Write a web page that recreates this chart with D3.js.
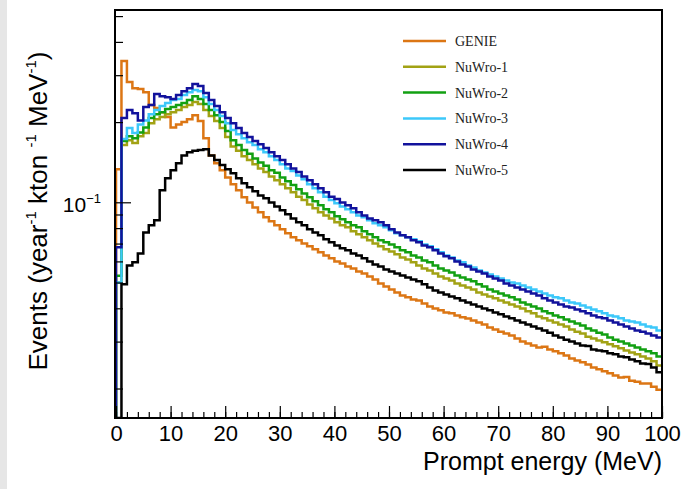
<!DOCTYPE html>
<html>
<head>
<meta charset="utf-8">
<script src="https://cdn.jsdelivr.net/npm/d3@7"></script>
<style>
  html, body { margin: 0; padding: 0; background: #ffffff; }
  svg { display: block; }
</style>
</head>
<body>
<svg id="chart" width="684" height="489"></svg>
<script>
// Prompt-energy spectra, 1 MeV bins from 0 to 100 MeV (events / year / kton / MeV)
const binEdges = d3.range(0, 101, 1);

const seriesNames = ["GENIE", "NuWro-1", "NuWro-2", "NuWro-3", "NuWro-4", "NuWro-5"];
const seriesColors = ["#dc7614", "#a2a214", "#12a012", "#3cc8fa", "#12129c", "#000000"];

const genie = [
  0.133, 0.339, 0.283, 0.268, 0.266, 0.259, 0.232, 0.226, 0.218, 0.209,
  0.191, 0.196, 0.200, 0.205, 0.212, 0.202, 0.174, 0.150, 0.140, 0.132,
  0.124, 0.117, 0.111, 0.1045, 0.0999, 0.0957, 0.0917, 0.0878, 0.0849, 0.0820,
  0.0792, 0.0765, 0.0739, 0.0720, 0.0701, 0.0684, 0.0666, 0.0649, 0.0632, 0.0616,
  0.0600, 0.0589, 0.0574, 0.0564, 0.0550, 0.0541, 0.0527, 0.0513, 0.0496, 0.0483,
  0.0471, 0.0459, 0.0447, 0.0440, 0.0432, 0.0428, 0.0417, 0.0406, 0.0399, 0.0393,
  0.0386, 0.0383, 0.0376, 0.0370, 0.0366, 0.0360, 0.0354, 0.0348, 0.0339, 0.0333,
  0.0327, 0.0322, 0.0316, 0.0308, 0.0300, 0.0295, 0.0290, 0.0285, 0.0287, 0.0280,
  0.0276, 0.0271, 0.0266, 0.0259, 0.0255, 0.0251, 0.0246, 0.0240, 0.0236, 0.0232,
  0.0228, 0.0224, 0.0220, 0.0221, 0.0214, 0.0212, 0.0209, 0.0209, 0.0203, 0.0198
];
const nuwro1 = [
  0.050, 0.164, 0.171, 0.167, 0.177, 0.182, 0.198, 0.205, 0.209, 0.214,
  0.218, 0.222, 0.228, 0.232, 0.238, 0.234, 0.222, 0.211, 0.202, 0.190,
  0.176, 0.162, 0.156, 0.149, 0.144, 0.139, 0.134, 0.130, 0.125, 0.121,
  0.117, 0.113, 0.109, 0.105, 0.102, 0.0982, 0.0949, 0.0917, 0.0893, 0.0870,
  0.0841, 0.0820, 0.0806, 0.0778, 0.0758, 0.0739, 0.0720, 0.0701, 0.0684, 0.0666,
  0.0654, 0.0638, 0.0621, 0.0610, 0.0595, 0.0579, 0.0564, 0.0555, 0.0541, 0.0527,
  0.0518, 0.0509, 0.0496, 0.0487, 0.0479, 0.0471, 0.0459, 0.0451, 0.0443, 0.0436,
  0.0428, 0.0421, 0.0413, 0.0406, 0.0399, 0.0390, 0.0383, 0.0373, 0.0367, 0.0360,
  0.0354, 0.0348, 0.0342, 0.0333, 0.0327, 0.0322, 0.0313, 0.0308, 0.0303, 0.0298,
  0.0293, 0.0288, 0.0283, 0.0278, 0.0273, 0.0269, 0.0264, 0.0259, 0.0253, 0.0244
];
const nuwro2 = [
  0.053, 0.170, 0.177, 0.174, 0.183, 0.191, 0.207, 0.214, 0.218, 0.224,
  0.228, 0.232, 0.236, 0.242, 0.250, 0.244, 0.234, 0.222, 0.212, 0.200,
  0.185, 0.171, 0.164, 0.157, 0.152, 0.146, 0.141, 0.137, 0.132, 0.129,
  0.124, 0.120, 0.116, 0.112, 0.108, 0.1045, 0.101, 0.0974, 0.0941, 0.0917,
  0.0886, 0.0863, 0.0841, 0.0820, 0.0806, 0.0778, 0.0758, 0.0739, 0.0720, 0.0708,
  0.0695, 0.0678, 0.0660, 0.0649, 0.0632, 0.0621, 0.0605, 0.0595, 0.0579, 0.0564,
  0.0555, 0.0545, 0.0531, 0.0522, 0.0513, 0.0505, 0.0492, 0.0483, 0.0471, 0.0463,
  0.0455, 0.0447, 0.0440, 0.0432, 0.0421, 0.0413, 0.0406, 0.0399, 0.0390, 0.0383,
  0.0376, 0.0370, 0.0363, 0.0357, 0.0351, 0.0345, 0.0336, 0.0330, 0.0324, 0.0319,
  0.0311, 0.0305, 0.0300, 0.0295, 0.0290, 0.0285, 0.0280, 0.0276, 0.0271, 0.0264
];
const nuwro3 = [
  0.050, 0.173, 0.190, 0.182, 0.196, 0.203, 0.214, 0.222, 0.230, 0.236,
  0.242, 0.244, 0.253, 0.259, 0.264, 0.261, 0.248, 0.234, 0.222, 0.211,
  0.198, 0.187, 0.180, 0.174, 0.168, 0.164, 0.158, 0.154, 0.149, 0.144,
  0.139, 0.134, 0.131, 0.126, 0.122, 0.117, 0.113, 0.109, 0.105, 0.102,
  0.0991, 0.0965, 0.0941, 0.0917, 0.0893, 0.0878, 0.0856, 0.0834, 0.0820, 0.0806,
  0.0785, 0.0765, 0.0752, 0.0739, 0.0726, 0.0714, 0.0695, 0.0684, 0.0666, 0.0649,
  0.0632, 0.0621, 0.0605, 0.0595, 0.0579, 0.0569, 0.0555, 0.0545, 0.0536, 0.0527,
  0.0518, 0.0509, 0.0500, 0.0496, 0.0487, 0.0479, 0.0471, 0.0463, 0.0455, 0.0447,
  0.0440, 0.0436, 0.0428, 0.0421, 0.0417, 0.0410, 0.0403, 0.0396, 0.0390, 0.0383,
  0.0376, 0.0373, 0.0367, 0.0360, 0.0357, 0.0354, 0.0348, 0.0342, 0.0339, 0.0330
];
const nuwro4 = [
  0.0678, 0.207, 0.222, 0.216, 0.203, 0.228, 0.232, 0.255, 0.250, 0.248,
  0.244, 0.253, 0.261, 0.268, 0.278, 0.273, 0.257, 0.242, 0.230, 0.218,
  0.207, 0.198, 0.190, 0.182, 0.176, 0.170, 0.165, 0.160, 0.154, 0.149,
  0.144, 0.139, 0.134, 0.130, 0.125, 0.121, 0.117, 0.113, 0.109, 0.105,
  0.103, 0.0999, 0.0974, 0.0949, 0.0917, 0.0893, 0.0870, 0.0856, 0.0841, 0.0820,
  0.0792, 0.0771, 0.0752, 0.0739, 0.0720, 0.0708, 0.0689, 0.0678, 0.0660, 0.0643,
  0.0627, 0.0616, 0.0600, 0.0584, 0.0574, 0.0560, 0.0550, 0.0541, 0.0527, 0.0518,
  0.0509, 0.0496, 0.0487, 0.0479, 0.0471, 0.0463, 0.0455, 0.0447, 0.0436, 0.0428,
  0.0421, 0.0413, 0.0406, 0.0403, 0.0396, 0.0390, 0.0383, 0.0376, 0.0370, 0.0367,
  0.0360, 0.0354, 0.0348, 0.0342, 0.0336, 0.0330, 0.0327, 0.0322, 0.0316, 0.0311
];
const nuwro5 = [
  0.0100, 0.0492, 0.0579, 0.0595, 0.0643, 0.0771, 0.0820, 0.0856, 0.111, 0.123,
  0.132, 0.140, 0.150, 0.154, 0.156, 0.157, 0.158, 0.150, 0.144, 0.138,
  0.133, 0.1285, 0.123, 0.118, 0.114, 0.110, 0.106, 0.1036, 0.0999, 0.0965,
  0.0933, 0.0901, 0.0870, 0.0841, 0.0820, 0.0792, 0.0771, 0.0752, 0.0726, 0.0708,
  0.0689, 0.0672, 0.0660, 0.0643, 0.0632, 0.0616, 0.0600, 0.0584, 0.0574, 0.0560,
  0.0550, 0.0541, 0.0531, 0.0522, 0.0513, 0.0505, 0.0492, 0.0479, 0.0467, 0.0459,
  0.0451, 0.0443, 0.0436, 0.0428, 0.0421, 0.0413, 0.0406, 0.0399, 0.0393, 0.0386,
  0.0380, 0.0373, 0.0367, 0.0360, 0.0354, 0.0348, 0.0342, 0.0336, 0.0330, 0.0324,
  0.0316, 0.0311, 0.0305, 0.0300, 0.0295, 0.0290, 0.0289, 0.0280, 0.0278, 0.0276,
  0.0271, 0.0269, 0.0264, 0.0262, 0.0257, 0.0253, 0.0248, 0.0247, 0.0240, 0.0230
];

const seriesValues = [genie, nuwro1, nuwro2, nuwro3, nuwro4, nuwro5];

const xMajorTicks = d3.range(0, 101, 10);
const xMinorTicks = d3.range(0, 101, 2);
const yMajorTicks = [0.1];
const yMinorTicks = [0.02, 0.03, 0.04, 0.05, 0.06, 0.07, 0.08, 0.09, 0.2, 0.3, 0.4, 0.5];

const W = 684, H = 489;
const frame = { left: 115, right: 662, top: 10, bottom: 418 };

const svg = d3.select("#chart");

// light grey strip along the left edge of the canvas
svg.append("rect")
  .attr("x", 0).attr("y", 0).attr("width", 7).attr("height", H)
  .attr("fill", "#e6e6e6");

const x = d3.scaleLinear().domain([0, 100]).range([116, frame.right]);
const y = d3.scaleLog().domain([0.0155, 0.527]).range([frame.bottom, frame.top]).clamp(true);

svg.append("defs").append("clipPath").attr("id", "plotClip")
  .append("rect")
  .attr("x", frame.left).attr("y", frame.top)
  .attr("width", frame.right - frame.left).attr("height", frame.bottom - frame.top);

// histogram outline: rises from the axis at the first low edge, then steps bin by bin
function stepPath(vals) {
  const p = d3.path();
  p.moveTo(x(binEdges[0]), frame.bottom);
  vals.forEach((v, i) => {
    p.lineTo(x(binEdges[i]), y(v));
    p.lineTo(x(binEdges[i + 1]), y(v));
  });
  return p.toString();
}

const plot = svg.append("g").attr("clip-path", "url(#plotClip)");
plot.selectAll("path.hist")
  .data(seriesValues)
  .join("path")
  .attr("class", "hist")
  .attr("d", d => stepPath(d))
  .attr("fill", "none")
  .attr("stroke", (d, i) => seriesColors[i])
  .attr("stroke-width", 2.5)
  .attr("stroke-linejoin", "miter");

// axes (ticks point into the frame)
const tickFont = "'Liberation Sans', Arial, sans-serif";

const xMinor = svg.append("g")
  .attr("transform", `translate(0,${frame.bottom})`)
  .call(d3.axisBottom(x).tickValues(xMinorTicks).tickSize(-6).tickFormat(""));
xMinor.select(".domain").remove();

const xMajor = svg.append("g")
  .attr("transform", `translate(0,${frame.bottom})`)
  .call(d3.axisBottom(x).tickValues(xMajorTicks).tickSize(-12).tickPadding(7).tickFormat(d3.format("d")));
xMajor.select(".domain").remove();
xMajor.selectAll("text")
  .attr("font-family", tickFont).attr("font-size", 22).attr("fill", "#000");

svg.selectAll(".tick line").attr("stroke", "#000").attr("stroke-width", 1.2);

const yMinor = svg.append("g")
  .attr("transform", `translate(${frame.left},0)`)
  .call(d3.axisLeft(y).tickValues(yMinorTicks).tickSize(-8).tickFormat(""));
yMinor.select(".domain").remove();
yMinor.selectAll(".tick line").attr("stroke", "#000").attr("stroke-width", 1.2);

const yMajor = svg.append("g")
  .attr("transform", `translate(${frame.left},0)`)
  .call(d3.axisLeft(y).tickValues(yMajorTicks).tickSize(-16).tickPadding(14).tickFormat(""));
yMajor.select(".domain").remove();
yMajor.selectAll(".tick line").attr("stroke", "#000").attr("stroke-width", 1.2);
yMajor.selectAll(".tick").each(function (d) {
  const t = d3.select(this).select("text")
    .attr("font-family", tickFont).attr("font-size", 21).attr("fill", "#000")
    .attr("dy", "0.45em").attr("text-anchor", "end");
  const exp = Math.round(Math.log10(d));
  t.append("tspan").text("10");
  t.append("tspan").attr("font-size", 13).attr("dy", "-0.75em")
    .text(exp < 0 ? "\u2212" + (-exp) : String(exp));
});

// frame
svg.append("rect")
  .attr("x", frame.left).attr("y", frame.top)
  .attr("width", frame.right - frame.left).attr("height", frame.bottom - frame.top)
  .attr("fill", "none").attr("stroke", "#000").attr("stroke-width", 2);

// axis titles
svg.append("text")
  .attr("x", frame.right).attr("y", 470)
  .attr("text-anchor", "end")
  .attr("font-family", tickFont).attr("font-size", 25).attr("fill", "#000")
  .text("Prompt energy (MeV)");

const yTitle = svg.append("text")
  .attr("transform", "translate(47,211) rotate(-90)")
  .attr("text-anchor", "middle")
  .attr("font-family", tickFont).attr("font-size", 26).attr("fill", "#000");
const yTitleParts = [
  { t: "Events (year", sup: false },
  { t: "-1", sup: true },
  { t: " kton ", sup: false },
  { t: "-1", sup: true },
  { t: " MeV", sup: false },
  { t: "-1", sup: true },
  { t: ")", sup: false }
];
yTitleParts.forEach(p => {
  const ts = yTitle.append("tspan").text(p.t);
  if (p.sup) ts.attr("font-size", 15).attr("dy", -11);
  else ts.attr("dy", yTitle.selectAll("tspan").size() > 1 ? 11 : 0);
});

// legend
const legend = svg.append("g");
seriesNames.forEach((name, i) => {
  const ly = 41 + i * 25.8;
  legend.append("line")
    .attr("x1", 403).attr("x2", 446).attr("y1", ly).attr("y2", ly)
    .attr("stroke", seriesColors[i]).attr("stroke-width", 2.5);
  legend.append("text")
    .attr("x", 455).attr("y", ly).attr("dy", "0.35em")
    .attr("font-family", "'Liberation Serif', 'Times New Roman', serif")
    .attr("font-size", 14).attr("fill", "#222")
    .text(name);
});
</script>
</body>
</html>
